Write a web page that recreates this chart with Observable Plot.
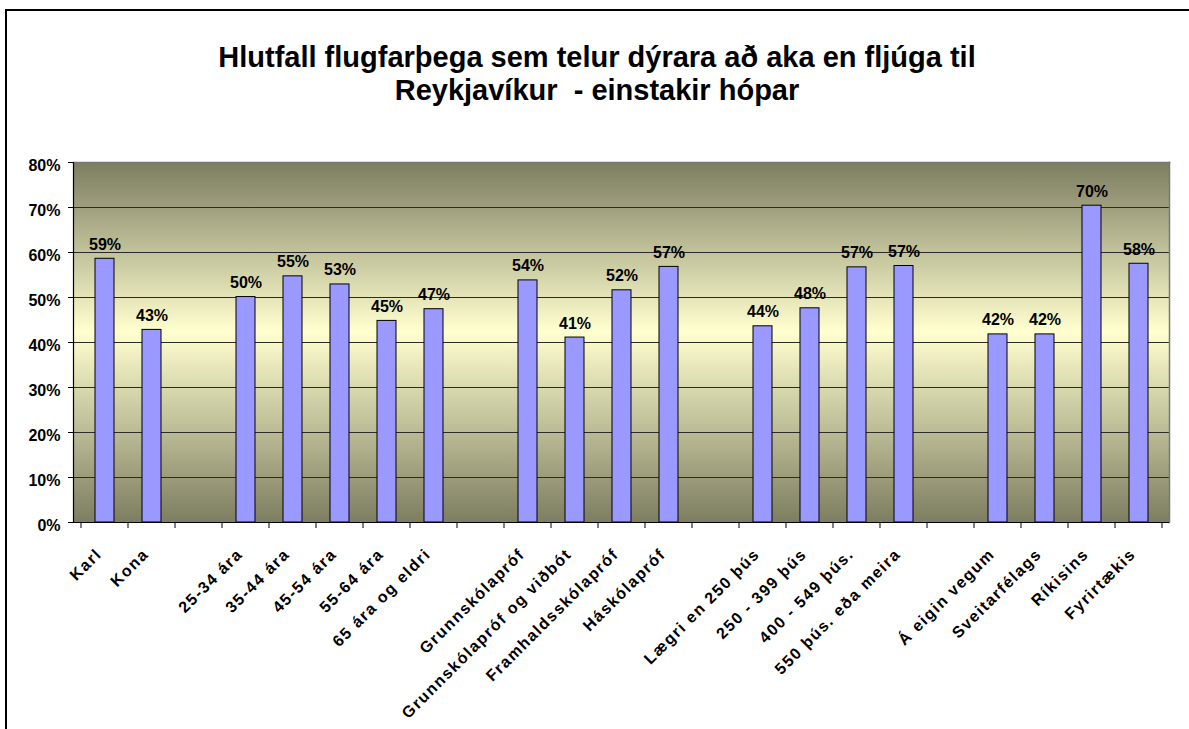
<!DOCTYPE html>
<html>
<head>
<meta charset="utf-8">
<script src="https://cdn.jsdelivr.net/npm/d3@7"></script>
<script src="https://cdn.jsdelivr.net/npm/@observablehq/plot@0.6"></script>
<style>
  html, body { margin: 0; padding: 0; background: #fff; }
  #wrap { position: relative; width: 1189px; height: 729px; overflow: hidden; font-family: "Liberation Sans", Arial, sans-serif; }
  #frame { position: absolute; left: 5px; top: 9px; width: 1300px; height: 800px; border-left: 2px solid #000; border-top: 2px solid #000; }
  #title { position: absolute; left: 0; top: 41px; width: 1194px; text-align: center; font-weight: bold; font-size: 29px; line-height: 33px; white-space: pre; color: #000; }
  #chart { position: absolute; left: 0; top: 130px; }
</style>
</head>
<body>
<div id="wrap">
  <div id="frame"></div>
  <div id="title">Hlutfall flugfarþega sem telur dýrara að aka en fljúga til
Reykjavíkur  - einstakir hópar</div>
  <div id="chart"></div>
</div>
<script>
// ---- data ----
const groupGender = ["Karl", "Kona"];
const groupAge = ["25-34 ára", "35-44 ára", "45-54 ára", "55-64 ára", "65 ára og eldri"];
const groupEducation = ["Grunnskólapróf", "Grunnskólapróf og viðbót", "Framhaldsskólapróf", "Háskólapróf"];
const groupIncome = ["Lægri en 250 þús", "250 - 399 þús", "400 - 549 þús.", "550 þús. eða meira"];
const groupEmployer = ["Á eigin vegum", "Sveitarfélags", "Ríkisins", "Fyrirtækis"];

const valuesGender = [58.6, 42.8];
const valuesAge = [50.1, 54.7, 52.9, 44.8, 47.4];
const valuesEducation = [53.8, 41.1, 51.6, 56.8];
const valuesIncome = [43.6, 47.6, 56.7, 57.0];
const valuesEmployer = [41.8, 41.8, 70.4, 57.5];

const yTicks = [0, 10, 20, 30, 40, 50, 60, 70, 80];

// ---- build table & domain (empty slots between groups) ----
const groups = [groupGender, groupAge, groupEducation, groupIncome, groupEmployer];
const groupValues = [valuesGender, valuesAge, valuesEducation, valuesIncome, valuesEmployer];
const data = [];
const domain = [];
groups.forEach((g, gi) => {
  if (gi > 0) domain.push("__gap" + gi);
  g.forEach((c, i) => { domain.push(c); data.push({cat: c, value: groupValues[gi][i]}); });
});

const W = 1189, H = 599;
const font = "Liberation Sans, Arial, sans-serif";

const plot = Plot.plot({
  width: W,
  height: H,
  marginLeft: 73,
  marginRight: 20,
  marginTop: 32,
  marginBottom: 207,
  style: {fontFamily: font, fontSize: "16px", fontWeight: "bold", background: "transparent", overflow: "visible"},
  x: {type: "band", domain, paddingInner: 0.6, paddingOuter: 0.3, axis: null},
  y: {domain: [0, 80], axis: null},
  marks: [
    Plot.frame({fill: "url(#bggrad)", stroke: null}),
    Plot.ruleY(yTicks, {stroke: "#2b2b2b", strokeWidth: 1}),
    Plot.frame({anchor: "top", stroke: "#777", strokeWidth: 1.5}),
    Plot.frame({anchor: "right", stroke: "#777", strokeWidth: 1.5}),
    Plot.barY(data, {x: "cat", y: "value", fill: "#9999FF", stroke: "#000", strokeWidth: 1}),
    Plot.ruleY([0], {stroke: "#000", strokeWidth: 1.2}),
    Plot.frame({anchor: "left", stroke: "#000", strokeWidth: 1.2}),
    Plot.axisY({ticks: yTicks, tickSize: 5, tickFormat: () => "", label: null, stroke: "#000"}),
    Plot.text(yTicks, {y: d => d, frameAnchor: "left", text: d => d + "%", textAnchor: "end", dx: -13, dy: 3, fontSize: 16, fontWeight: "bold", fill: "#000"}),
    Plot.text(data, {x: "cat", y: "value", text: d => Math.round(d.value) + "%", lineAnchor: "bottom", dy: -9, fontSize: 16, fontWeight: "bold", fill: "#000"}),
    Plot.text(data, {x: "cat", frameAnchor: "bottom", text: "cat", rotate: -45, textAnchor: "end", lineAnchor: "middle", dx: -6, dy: 29, fontSize: 16, fontWeight: "bold", fill: "#000"})
  ]
});

const svg = d3.select(plot);
// looser letter spacing on rotated category labels, as in the original
svg.selectAll("text")
  .filter(function() { return (this.getAttribute("transform") || "").includes("rotate"); })
  .style("letter-spacing", "1.5px");

// gradient definition
const defs = svg.insert("defs", ":first-child");
const grad = defs.append("linearGradient").attr("id", "bggrad").attr("x1", 0).attr("y1", 0).attr("x2", 0).attr("y2", 1);
grad.append("stop").attr("offset", "0").attr("stop-color", "#7d7d61");
grad.append("stop").attr("offset", "0.47").attr("stop-color", "#ffffcf");
grad.append("stop").attr("offset", "1").attr("stop-color", "#7d7d61");

// x ticks at slot boundaries, derived from the band scale
const xs = plot.scale("x");
const ys = plot.scale("y");
const step = xs.step, bw = xs.bandwidth;
const y0 = ys.apply(0);
const bounds = domain.map(d => xs.apply(d) - (step - bw) / 2);
bounds.push(bounds[bounds.length - 1] + step);
svg.append("g").attr("stroke", "#000").attr("stroke-width", 1)
  .selectAll("line").data(bounds).join("line")
  .attr("x1", d => d).attr("x2", d => d)
  .attr("y1", y0).attr("y2", y0 + 6);

document.getElementById("chart").appendChild(plot);
</script>
</body>
</html>
